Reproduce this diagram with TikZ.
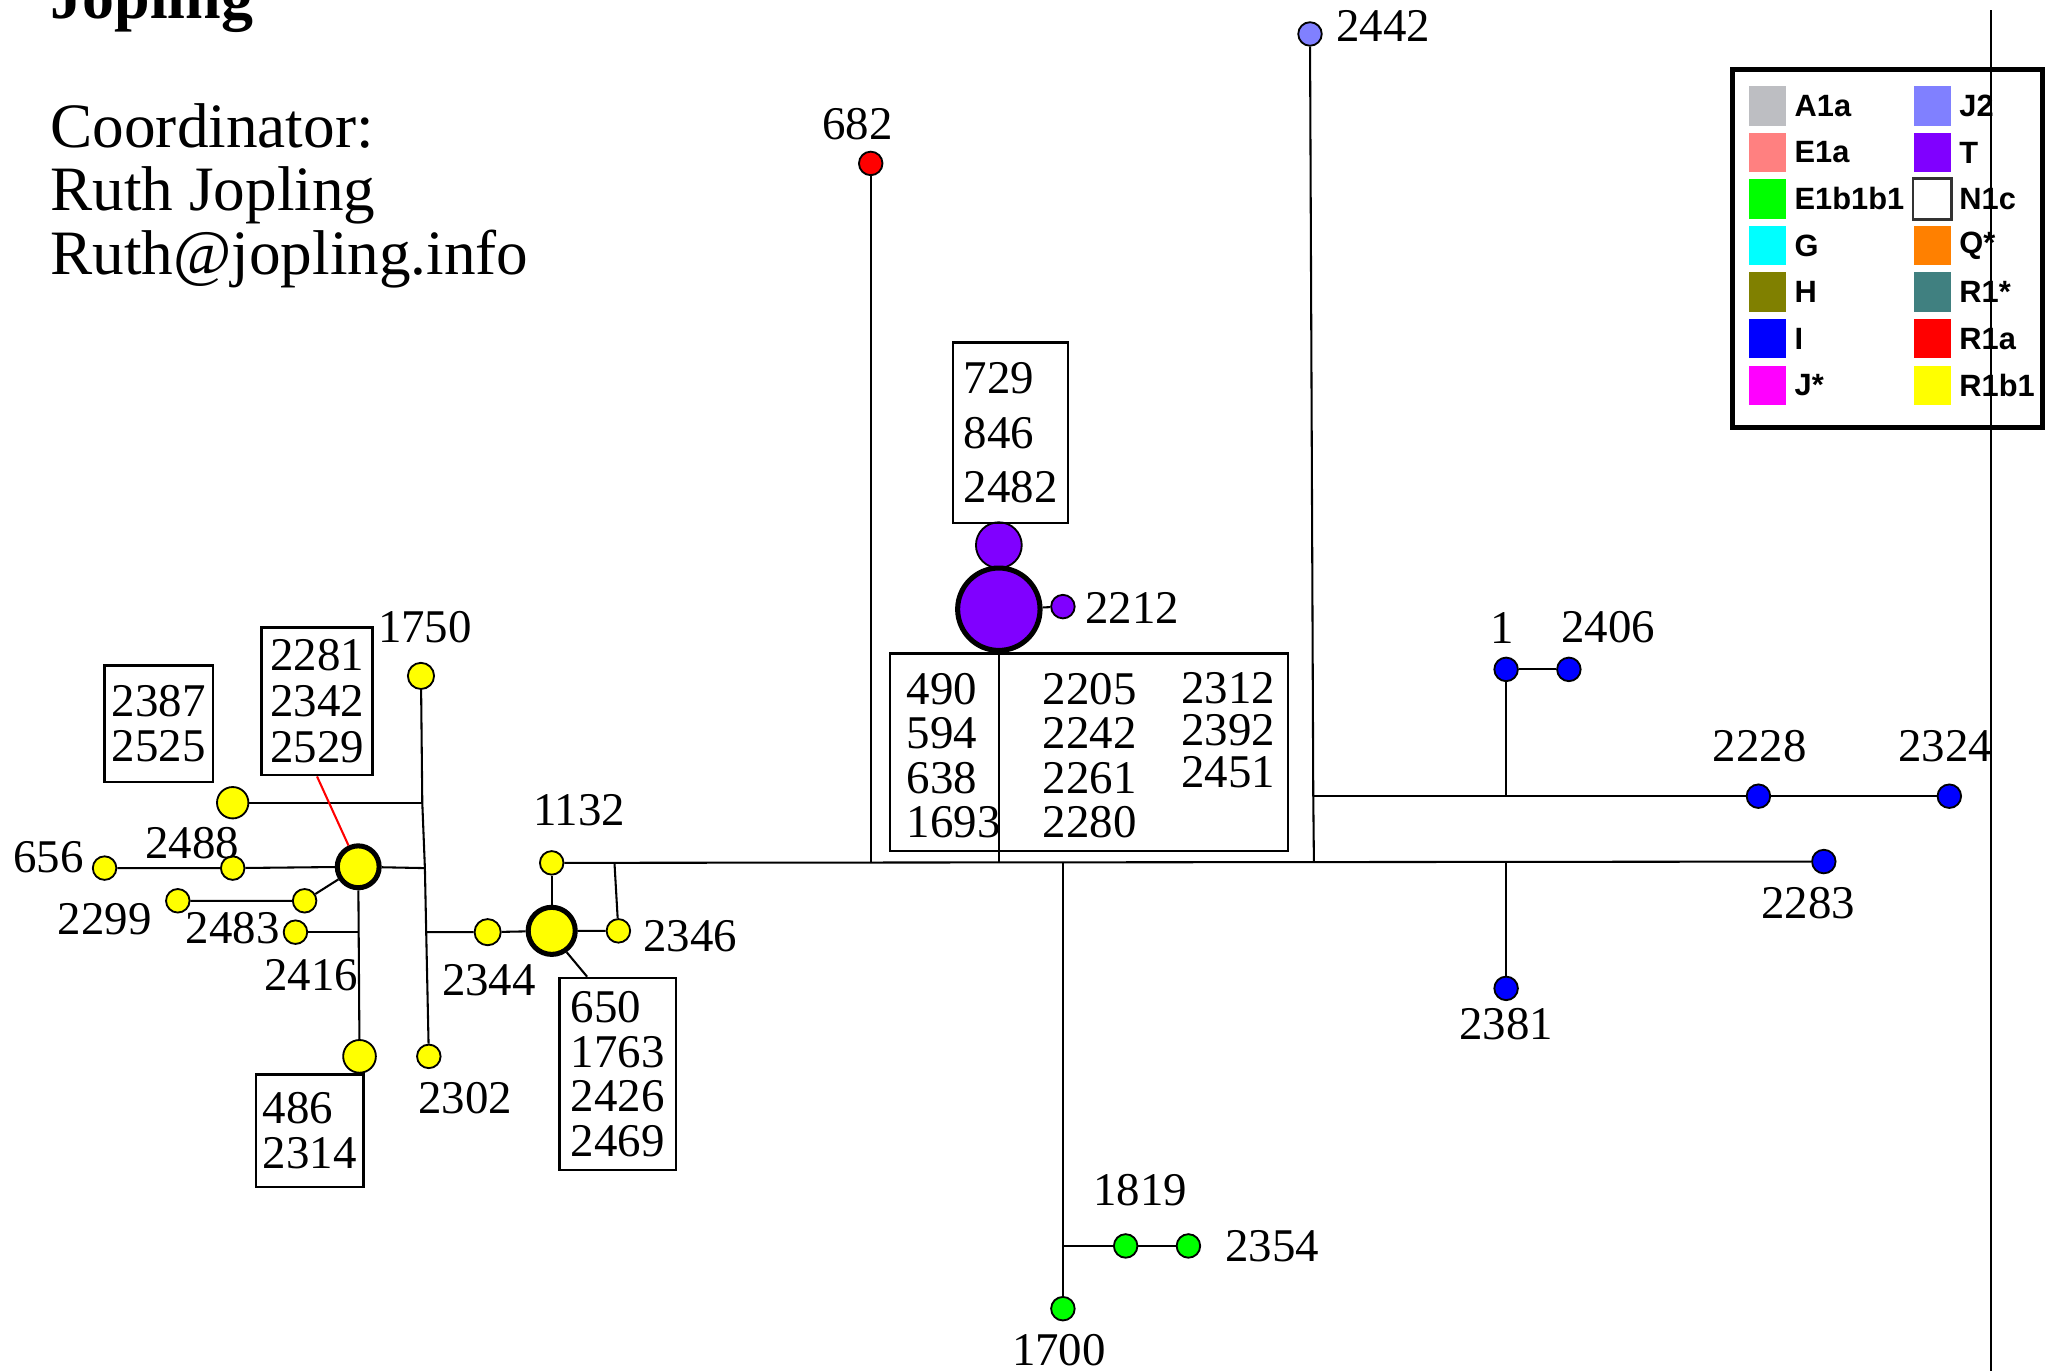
\documentclass[tikz,border=0pt]{standalone}
\usepackage{fontspec}
\setmainfont{Liberation Serif}
\newfontfamily\legendfont{Liberation Sans}
\usetikzlibrary{positioning,calc}
\definecolor{ysnpGrey}{HTML}{BDBEC2}
\definecolor{ysnpSalmon}{HTML}{FF8080}
\definecolor{ysnpGreen}{HTML}{00FF00}
\definecolor{ysnpCyan}{HTML}{00FFFF}
\definecolor{ysnpOlive}{HTML}{808000}
\definecolor{ysnpBlue}{HTML}{0000FF}
\definecolor{ysnpMagenta}{HTML}{FF00FF}
\definecolor{ysnpLavender}{HTML}{8080FF}
\definecolor{ysnpViolet}{HTML}{8000FF}
\definecolor{ysnpOrange}{HTML}{FF8000}
\definecolor{ysnpTeal}{HTML}{408080}
\definecolor{ysnpRed}{HTML}{FF0000}
\definecolor{ysnpYellow}{HTML}{FFFF00}
\newcommand{\lblfont}{\fontsize{10.2}{9.7}\selectfont}

\begin{document}
\begin{tikzpicture}[x=0.01cm,y=-0.01cm,
    link/.style={line width=0.45pt},
    hap/.style={circle,draw,line width=0.4pt,inner sep=0pt,minimum size=0.18cm},
    hub/.style={hap,line width=1.1pt},
    lbl/.style={inner sep=0pt,font=\lblfont},
    numbox/.style={draw,line width=0.5pt,inner sep=0pt,align=left,font=\lblfont},
    swatch/.style={inner sep=0pt,minimum width=0.28cm,minimum height=0.30cm},
    keytxt/.style={inner sep=0pt,anchor=west,font=\legendfont\bfseries\fontsize{6.7}{7}\selectfont}]
  \useasboundingbox (0,0) rectangle (1568,1049);
  \clip (0,0) rectangle (1568,1049);

  % header text
  \node[anchor=base west,inner sep=0pt,font=\fontsize{13.9}{14}\selectfont\bfseries] (ttl) at (38,14) {Jopling};
  \node[anchor=base west,inner sep=0pt,font=\fontsize{13.75}{14}\selectfont] (crd) at (38,113) {Coordinator:};
  \node[anchor=base west,inner sep=0pt,font=\fontsize{13.75}{14}\selectfont] (crdname) at (38,161) {Ruth Jopling};
  \node[anchor=base west,inner sep=0pt,font=\fontsize{13.75}{14}\selectfont] (crdmail) at (38,210) {Ruth@jopling.info};

  % R1b1 cluster
  \node[hap,fill=ysnpYellow,minimum size=0.20cm] (n1750) at (322,517) {};
  \node[hap,fill=ysnpYellow,minimum size=0.24cm] (nA) at (178,614) {};
  \node[hub,fill=ysnpYellow,minimum size=0.32cm] (nH1) at (274,663) {};
  \node[hap,fill=ysnpYellow] (n656) at (80,664) {};
  \node[hap,fill=ysnpYellow] (n2488) at (178,664) {};
  \node[hap,fill=ysnpYellow] (n2483) at (233,689) {};
  \node[hap,fill=ysnpYellow] (n2299) at (136,689) {};
  \node[hap,fill=ysnpYellow] (n2416) at (226,713) {};
  \node[hap,fill=ysnpYellow,minimum size=0.25cm] (nB) at (275,808) {};
  \node[hap,fill=ysnpYellow] (n2302) at (328,808) {};
  \node[hap,fill=ysnpYellow,minimum size=0.20cm] (n2344) at (373,713) {};
  \node[hub,fill=ysnpYellow,minimum size=0.36cm] (nH2) at (422,712) {};
  \node[hap,fill=ysnpYellow] (n2346) at (473,712) {};
  \node[hap,fill=ysnpYellow] (n1132) at (422,660) {};

  \node[lbl] (l1750) at (325,480) {1750};
  \node[lbl] (l656) at (37,656) {656};
  \node[lbl] (l2488) at (147,645) {2488};
  \node[lbl] (l2299) at (80,703) {2299};
  \node[lbl] (l2483) at (178,710) {2483};
  \node[lbl] (l2416) at (238,746) {2416};
  \node[lbl] (l2302) at (356,840) {2302};
  \node[lbl] (l2344) at (374,750) {2344};
  \node[lbl] (l2346) at (528,716) {2346};
  \node[lbl] (l1132) at (443,620) {1132};

  \node[numbox,align=center,minimum width=0.83cm,minimum height=0.89cm,font=\fontsize{10.2}{10}\selectfont] (b2387) at (121.5,553.5) {2387\\2525};
  \node[numbox,align=center,minimum width=0.85cm,minimum height=1.13cm,font=\fontsize{10.2}{10}\selectfont] (b2281) at (242.5,536.5) {2281\\2342\\2529};
  \node[numbox,minimum width=0.82cm,minimum height=0.86cm] (b486) at (237,865) {486\\2314};
  \node[numbox,minimum width=0.89cm,minimum height=1.47cm] (b650) at (472.5,821.5) {650\\1763\\2426\\2469};

  \coordinate (j1) at (323,614);
  \coordinate (j2) at (325,664);
  \coordinate (j3) at (326,713);
  \coordinate (j4) at (nH1 |- n2416);
  \draw[link] (n1750) -- (j1) -- (j2) -- (j3) -- (n2302);
  \draw[link] (nA) -- (j1);
  \draw[link] (n656) -- (n2488) -- (nH1) -- (j2);
  \draw[link] (n2299) -- (n2483) -- (nH1);
  \draw[link] (nH1) -- (nB);
  \draw[link] (n2416) -- (j4);
  \draw[link] (j3) -- (n2344) -- (nH2) -- (n2346);
  \draw[link] (nH2) -- (n1132);
  \draw[link,ysnpRed] (b2281.south) -- (nH1);
  \draw[link] (nH2.-55) -- ($(b650.north west)+(22,0)$);

  % T cluster
  \node[hap,fill=ysnpRed] (n682) at (666,125) {};
  \node[lbl] (l682) at (656,95) {682};
  \node[hap,fill=ysnpViolet,minimum size=0.35cm] (nT1) at (764,417) {};
  \node[hub,fill=ysnpViolet,minimum size=0.63cm] (nT) at (764,466) {};
  \node[hap,fill=ysnpViolet] (n2212) at (813,464) {};
  \node[lbl] (l2212) at (866,465) {2212};
  \node[numbox,minimum width=0.88cm,minimum height=1.38cm,font=\fontsize{10.2}{11.8}\selectfont] (b729) at (773,331) {729\\846\\2482};
  \node[draw,line width=0.5pt,inner sep=0pt,minimum width=3.04cm,minimum height=1.51cm] (bT) at (833,575.5) {};
  \node[lbl,anchor=north west,align=left] (bTa) at (693,514) {490\\594\\638\\1693};
  \node[lbl,anchor=north west,align=left] (bTb) at (797,514) {2205\\2242\\2261\\2280};
  \node[lbl,anchor=north west,align=left,font=\fontsize{10.2}{9.1}\selectfont] (bTc) at (903,514) {2312\\2392\\2451};
  \draw[link] (nT) -- (n2212);

  % I, J2 and E1b1b1 branches
  \node[hap,fill=ysnpLavender] (n2442) at (1002,26) {};
  \node[lbl] (l2442) at (1058,20) {2442};
  \node[hap,fill=ysnpBlue] (n1) at (1152,512) {};
  \node[hap,fill=ysnpBlue] (n2406) at (1200,512) {};
  \node[hap,fill=ysnpBlue] (n2228) at (1345,609) {};
  \node[hap,fill=ysnpBlue] (n2324) at (1491,609) {};
  \node[hap,fill=ysnpBlue] (n2283) at (1395,659) {};
  \node[hap,fill=ysnpBlue] (n2381) at (1152,756) {};
  \node[lbl] (l1) at (1149,480) {1};
  \node[lbl] (l2406) at (1230,480) {2406};
  \node[lbl] (l2228) at (1346,571) {2228};
  \node[lbl] (l2324) at (1488,571) {2324};
  \node[lbl] (l2283) at (1383,691) {2283};
  \node[lbl] (l2381) at (1152,783) {2381};
  \node[hap,fill=ysnpGreen] (n1700) at (813,1001) {};
  \node[hap,fill=ysnpGreen] (n1819) at (861,953) {};
  \node[hap,fill=ysnpGreen] (n2354) at (909,953) {};
  \node[lbl] (l1700) at (810,1033) {1700};
  \node[lbl] (l1819) at (872,910) {1819};
  \node[lbl] (l2354) at (973,953) {2354};

  \coordinate (m1) at (470,660);
  \coordinate (m2) at (666,660);
  \coordinate (m3) at (764,660);
  \coordinate (m4) at (813,660);
  \coordinate (m5) at (1005,660);
  \coordinate (m6) at (1152,660);
  \coordinate (k1) at (1004.5,609);
  \coordinate (k2) at (1152,609);
  \coordinate (g1) at (813,953);
  \draw[link] (n1132) -- (n2283);
  \draw[link] (m1) -- (n2346);
  \draw[link] (n682) -- (m2);
  \draw[link] (nT) -- (m3);
  \draw[link] (m4) -- (g1) -- (n1700);
  \draw[link] (g1) -- (n1819) -- (n2354);
  \draw[link] (n2442) -- (k1) -- (m5);
  \draw[link] (k1) -- (n2228) -- (n2324);
  \draw[link] (n1) -- (k2);
  \draw[link] (n1) -- (n2406);
  \draw[link] (m6) -- (n2381);

  % legend
  \node[draw,line width=1.1pt,inner sep=0pt,minimum width=2.37cm,minimum height=2.74cm] (key) at (1443.5,190) {};
  \foreach \c/\t [count=\i from 0] in {ysnpGrey/A1a,ysnpSalmon/E1a,ysnpGreen/E1b1b1,ysnpCyan/G,ysnpOlive/H,ysnpBlue/I,ysnpMagenta/J*}{
    \node[swatch,fill=\c] (kl\i) at (1352,{81+35.6*\i}) {};
    \node[keytxt] (klt\i) at (1372,{81+35.6*\i}) {\t};
  }
  \foreach \c/\t [count=\i from 0] in {ysnpLavender/J2,ysnpViolet/T,white/N1c,ysnpOrange/Q*,ysnpTeal/R1*,ysnpRed/R1a,ysnpYellow/R1b1}{
    \node[swatch,fill=\c] (kr\i) at (1478,{81+35.6*\i}) {};
    \node[keytxt] (krt\i) at (1498,{81+35.6*\i}) {\t};
  }
  \draw[line width=0.5pt,black!80] (kr2.south west) rectangle (kr2.north east);

  \coordinate (rtop) at (1523,8);
  \coordinate (rbot) at (1523,1049);
  \draw[line width=0.4pt] (rtop) -- (rbot);
\end{tikzpicture}
\end{document}
